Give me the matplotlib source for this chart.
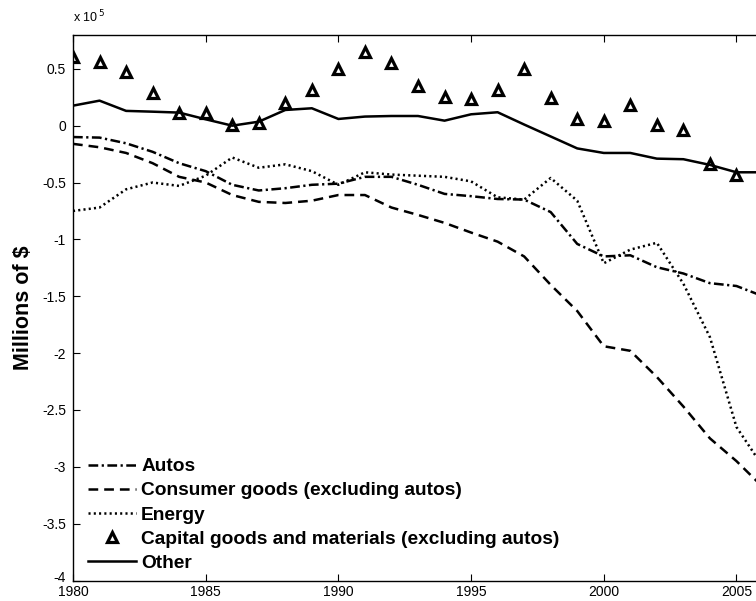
import matplotlib
matplotlib.use("Agg")
import matplotlib.pyplot as plt
import matplotlib.transforms as mtransforms
import numpy as np

plt.rcParams['font.family'] = ['Liberation Sans', 'DejaVu Sans']
plt.rcParams['lines.scale_dashes'] = False

# values in units of 1e5 millions of $
years = list(range(1980, 2007))
autos = [-0.10, -0.105, -0.155, -0.23, -0.33, -0.40, -0.52, -0.57, -0.55, -0.52,
         -0.51, -0.45, -0.45, -0.52, -0.60, -0.62, -0.645, -0.65, -0.76, -1.04,
         -1.15, -1.14, -1.245, -1.30, -1.385, -1.41, -1.50]
consumer = [-0.16, -0.19, -0.24, -0.33, -0.45, -0.50, -0.61, -0.67, -0.68, -0.66,
            -0.61, -0.61, -0.72, -0.785, -0.855, -0.94, -1.02, -1.15, -1.40, -1.63,
            -1.94, -1.98, -2.21, -2.47, -2.75, -2.95, -3.18]
energy = [-0.75, -0.72, -0.56, -0.50, -0.53, -0.44, -0.28, -0.37, -0.34, -0.40,
          -0.52, -0.41, -0.43, -0.44, -0.45, -0.49, -0.63, -0.65, -0.46, -0.66,
          -1.21, -1.09, -1.03, -1.39, -1.86, -2.65, -3.00]
capital = [0.60, 0.56, 0.47, 0.29, 0.11, 0.11, 0.005, 0.02, 0.20, 0.31,
           0.50, 0.65, 0.55, 0.35, 0.25, 0.235, 0.31, 0.50, 0.24, 0.06,
           0.04, 0.18, 0.006, -0.035, -0.34, -0.43]
other = [0.176, 0.22, 0.13, 0.123, 0.115, 0.056, 0.0, 0.035, 0.138, 0.153,
         0.059, 0.08, 0.085, 0.085, 0.044, 0.10, 0.118, 0.01, -0.095, -0.2,
         -0.24, -0.24, -0.29, -0.295, -0.345, -0.41, -0.41]

labels = ['Autos', 'Consumer goods (excluding autos)', 'Energy',
          'Capital goods and materials (excluding autos)', 'Other']
xticks = [1980, 1985, 1990, 1995, 2000, 2005]
yticks = [-4, -3.5, -3, -2.5, -2, -1.5, -1, -0.5, 0, 0.5]
ytick_labels = ['-4', '-3.5', '-3', '-2.5', '-2', '-1.5', '-1', '-0.5', '0', '0.5']

fig = plt.figure(figsize=(7.56, 6.01), dpi=100)
W, H = 756, 601
ax = fig.add_axes([73 / W, (H - 580.5) / H, 690 / W, 545.8 / H])

lw = 1.8
ax.plot(years, autos, color='black', lw=lw, linestyle=(0, (7, 2.5, 1.6, 2.5)), label=labels[0])
ax.plot(years, consumer, color='black', lw=lw, linestyle=(0, (7, 4.3)), label=labels[1])
ax.plot(years, energy, color='black', lw=lw, linestyle=(0, (1.5, 2.3)), label=labels[2])
ax.plot(years[:len(capital)], capital, linestyle='none', marker='^', ms=7.8,
        mfc='white', mec='black', mew=2.3, label=labels[3])
ax.plot(years, other, color='black', lw=lw, linestyle='-', label=labels[4])

ax.set_xlim(1980, 2006)
ax.set_ylim(-4, 0.8)
ax.set_xticks(xticks)
ax.set_xticklabels([str(t) for t in xticks])
ax.set_yticks(yticks)
ax.set_yticklabels(ytick_labels)
ax.tick_params(direction='in', length=5, width=0.8, top=True, right=True,
               labelsize=10, colors='black')
ax.tick_params(axis='x', pad=3)
ax.tick_params(axis='y', pad=5)
for s in ax.spines.values():
    s.set_linewidth(1.0)

# lift the lowest y label slightly so it clears the first x label
lowest = ax.get_yticklabels()[0]
lowest.set_transform(lowest.get_transform() +
                     mtransforms.ScaledTranslation(0, 4 / 100, fig.dpi_scale_trans))

ax.set_ylabel(r'Millions of \$', fontsize=15.5, fontweight='bold')
ax.yaxis.set_label_coords(-0.056, 0.5)

ax.text(0.0, 1.018, r'x 10$^{\,5}$', transform=ax.transAxes, ha='left', va='bottom',
        fontsize=9)

leg = ax.legend(loc='lower left', bbox_to_anchor=(0.0217, 0.016), frameon=False,
                borderpad=0, borderaxespad=0, handlelength=2.5, handletextpad=0.27,
                labelspacing=0.35, numpoints=1,
                prop={'weight': 'bold', 'size': 13.8})

fig.savefig('out.png', dpi=100)
